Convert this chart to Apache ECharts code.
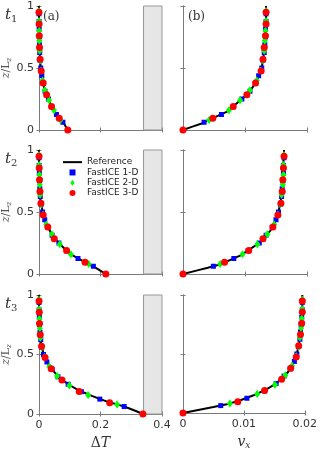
<!DOCTYPE html>
<html>
<head>
<meta charset="utf-8">
<script src="https://cdn.jsdelivr.net/npm/echarts@6/dist/echarts.min.js"></script>
<style>
  html, body { margin: 0; padding: 0; background: #fff; }
  #chart { width: 320px; height: 451px; }
</style>
</head>
<body>
<div id="chart"></div>
<script>
// vertical positions z/Lz
const zRef = [0, 0.025, 0.05, 0.075, 0.1, 0.15, 0.2, 0.25, 0.3, 0.35, 0.4, 0.45, 0.5, 0.6, 0.7, 0.8, 0.9, 1.0];
const z1D = [0.0625, 0.125, 0.1875, 0.25, 0.3125, 0.375, 0.4375, 0.5, 0.5625, 0.625, 0.6875, 0.75, 0.8125, 0.875, 0.9375];
const z2D = [0.08, 0.16, 0.24, 0.32, 0.40, 0.48, 0.56, 0.64, 0.72, 0.80, 0.88, 0.96];
const z3D = [0, 0.095, 0.19, 0.285, 0.38, 0.475, 0.57, 0.665, 0.76, 0.855, 0.95];

// reference curves
const refT1 = [0.094, 0.088, 0.082, 0.072, 0.064, 0.051, 0.039, 0.031, 0.022, 0.016, 0.012, 0.009, 0.006, 0.003, 0.0015, 0.001, 0.0005, 0];
const refT2 = [0.2175, 0.201, 0.185, 0.164, 0.146, 0.11, 0.085, 0.065, 0.046, 0.035, 0.024, 0.017, 0.012, 0.005, 0.003, 0.0015, 0.0008, 0];
const refT3 = [0.338, 0.315, 0.29, 0.262, 0.226, 0.174, 0.128, 0.095, 0.069, 0.051, 0.036, 0.023, 0.015, 0.007, 0.003, 0.0015, 0.0008, 0];
const refV1 = [0, 0.0014, 0.0029, 0.0039, 0.005, 0.0072, 0.0083, 0.0095, 0.0106, 0.0113, 0.0119, 0.0123, 0.0127, 0.013, 0.0132, 0.0133, 0.0134, 0.0134];
const refV2 = [0, 0.002, 0.004, 0.0058, 0.007, 0.0093, 0.0108, 0.0123, 0.0132, 0.0141, 0.0147, 0.0151, 0.0154, 0.0158, 0.016, 0.0162, 0.0162, 0.0163];
const refV3 = [0, 0.0025, 0.005, 0.0072, 0.009, 0.0116, 0.0137, 0.0153, 0.0164, 0.0173, 0.0179, 0.0184, 0.0187, 0.0191, 0.0193, 0.0195, 0.0196, 0.0196];

// FastICE 1-D
const f1T1 = [0.078, 0.057, 0.042, 0.031, 0.02, 0.014, 0.0095, 0.006, 0.004, 0.0027, 0.0018, 0.0012, 0.0009, 0.0006, 0.0003];
const f1T2 = [0.177, 0.127, 0.09, 0.065, 0.043, 0.03, 0.019, 0.012, 0.007, 0.0045, 0.003, 0.002, 0.0014, 0.001, 0.0005];
const f1T3 = [0.277, 0.198, 0.138, 0.095, 0.062, 0.043, 0.026, 0.015, 0.009, 0.006, 0.0035, 0.002, 0.0015, 0.001, 0.0005];
const f1V1 = [0.0034, 0.0062, 0.0081, 0.0095, 0.0108, 0.0117, 0.0122, 0.0127, 0.0129, 0.0131, 0.0132, 0.0133, 0.0133, 0.0134, 0.0134];
const f1V2 = [0.0049, 0.0082, 0.0105, 0.0123, 0.0134, 0.0144, 0.015, 0.0154, 0.0157, 0.0159, 0.016, 0.0161, 0.0162, 0.0162, 0.0163];
const f1V3 = [0.0062, 0.0105, 0.0134, 0.0153, 0.0166, 0.0176, 0.0183, 0.0187, 0.019, 0.0192, 0.0193, 0.0194, 0.0195, 0.0196, 0.0196];

// FastICE 2-D
const f2T1 = [0.07, 0.049, 0.033, 0.019, 0.012, 0.007, 0.004, 0.0024, 0.0014, 0.001, 0.0006, 0.0002];
const f2T2 = [0.162, 0.104, 0.068, 0.042, 0.024, 0.014, 0.0075, 0.004, 0.0027, 0.0015, 0.001, 0.0004];
const f2T3 = [0.254, 0.16, 0.099, 0.059, 0.034, 0.019, 0.009, 0.005, 0.003, 0.0015, 0.001, 0.0004];
const f2V1 = [0.0042, 0.0074, 0.0092, 0.0108, 0.0119, 0.0125, 0.0129, 0.0131, 0.0132, 0.0133, 0.0134, 0.0134];
const f2V2 = [0.006, 0.0096, 0.012, 0.0136, 0.0147, 0.0153, 0.0157, 0.0159, 0.0161, 0.0162, 0.0162, 0.0163];
const f2V3 = [0.0077, 0.0122, 0.0151, 0.0168, 0.0179, 0.0186, 0.019, 0.0192, 0.0194, 0.0195, 0.0196, 0.0196];

// FastICE 3-D
const f3T1 = [0.094, 0.066, 0.041, 0.025, 0.014, 0.0075, 0.004, 0.002, 0.0012, 0.0007, 0.0003];
const f3T2 = [0.2175, 0.15, 0.09, 0.05, 0.029, 0.014, 0.0065, 0.0035, 0.002, 0.001, 0.0005];
const f3T3 = [0.338, 0.23, 0.131, 0.075, 0.04, 0.02, 0.0085, 0.0045, 0.002, 0.0012, 0.0005];
const f3V1 = [0, 0.0048, 0.0081, 0.0103, 0.0117, 0.0126, 0.0129, 0.0131, 0.0133, 0.0134, 0.0134];
const f3V2 = [0, 0.0067, 0.0106, 0.0129, 0.0145, 0.0153, 0.0158, 0.016, 0.0161, 0.0162, 0.0163];
const f3V3 = [0, 0.009, 0.0134, 0.0162, 0.0177, 0.0186, 0.019, 0.0193, 0.0195, 0.0196, 0.0196];

const xTicksT = [0, 0.2, 0.4];
const xTicksV = [0, 0.01, 0.02];
const yTicks = [0, 0.5, 1];
const iceZone = [0.34, 0.4];   // shaded region in the ΔT panels
const rowLabels = ['1', '2', '3'];
const panelLabels = ['(a)', '(b)'];

const panels = [
  { ref: refT1, f1: f1T1, f2: f2T1, f3: f3T1, col: 0, row: 0 },
  { ref: refV1, f1: f1V1, f2: f2V1, f3: f3V1, col: 1, row: 0 },
  { ref: refT2, f1: f1T2, f2: f2T2, f3: f3T2, col: 0, row: 1 },
  { ref: refV2, f1: f1V2, f2: f2V2, f3: f3V2, col: 1, row: 1 },
  { ref: refT3, f1: f1T3, f2: f2T3, f3: f3T3, col: 0, row: 2 },
  { ref: refV3, f1: f1V3, f2: f2V3, f3: f3V3, col: 1, row: 2 }
];

const colLeft = [38, 183];
const rowTop = [6, 150, 295];
const boxColor = '#7a7a7a';
const labelFont = { color: '#333', fontSize: 11, fontFamily: 'DejaVu Sans' };

const pairs = (xs, zs) => zs.map((z, k) => [xs[k], z]);

var chartDom = document.getElementById('chart');
var myChart = echarts.init(chartDom, null, { renderer: 'canvas' });

var grid = [], xAxis = [], yAxis = [], series = [];

panels.forEach((p, i) => {
  grid.push({ left: colLeft[p.col], top: rowTop[p.row], width: 124, height: 124, containLabel: false });
  const isT = p.col === 0;
  const ticks = isT ? xTicksT : xTicksV;
  const bottomRow = p.row === 2;
  const tick = { show: true, inside: true, length: 2.5, lineStyle: { color: boxColor } };
  const line = { show: true, lineStyle: { color: boxColor, width: 1 } };
  xAxis.push({
    gridIndex: i, type: 'value', position: 'bottom',
    min: ticks[0], max: ticks[2], interval: ticks[1],
    axisLine: line, axisTick: tick, splitLine: { show: false },
    axisLabel: Object.assign({ show: bottomRow, margin: 6, showMinLabel: true, showMaxLabel: true }, labelFont),
    name: bottomRow ? (isT ? '{d|Δ}{i|T}' : '{i|v}{s|x}') : '',
    nameLocation: 'middle', nameGap: 22,
    nameTextStyle: {
      rich: {
        d: { fontFamily: 'DejaVu Serif', fontSize: 14, color: '#333' },
        i: { fontFamily: 'DejaVu Serif', fontStyle: 'italic', fontSize: 14, color: '#333' },
        s: { fontFamily: 'DejaVu Serif', fontStyle: 'italic', fontSize: 9, color: '#333', verticalAlign: 'bottom', padding: [6, 0, 0, 0] }
      }
    }
  });
  xAxis.push({
    gridIndex: i, type: 'value', position: 'top',
    min: ticks[0], max: ticks[2], interval: ticks[1],
    axisLine: line, axisTick: tick, splitLine: { show: false }, axisLabel: { show: false }
  });
  yAxis.push({
    gridIndex: i, type: 'value', position: 'left',
    min: yTicks[0], max: yTicks[2], interval: yTicks[1],
    axisLine: line, axisTick: tick, splitLine: { show: false },
    axisLabel: Object.assign({ show: isT, margin: 5 }, labelFont),
    name: isT ? '{i|z}{r|/L}{s|z}' : '',
    nameLocation: 'middle', nameGap: 24, nameRotate: 90,
    nameTextStyle: {
      rich: {
        i: { fontFamily: 'DejaVu Serif', fontStyle: 'italic', fontSize: 11, color: '#555' },
        r: { fontFamily: 'DejaVu Serif', fontSize: 11, color: '#555' },
        s: { fontFamily: 'DejaVu Serif', fontStyle: 'italic', fontSize: 7, color: '#555', padding: [5, 0, 0, 0] }
      }
    }
  });
  yAxis.push({
    gridIndex: i, type: 'value', position: 'right',
    min: yTicks[0], max: yTicks[2], interval: yTicks[1],
    axisLine: line, axisTick: tick, splitLine: { show: false }, axisLabel: { show: false }
  });

  const xi = 2 * i, yi = 2 * i;
  if (isT) {
    series.push({
      type: 'line', xAxisIndex: xi, yAxisIndex: yi, data: [], z: 1, silent: true,
      markArea: {
        silent: true,
        itemStyle: { color: '#e6e6e6', borderColor: '#999', borderWidth: 1 },
        data: [[{ xAxis: iceZone[0] }, { xAxis: iceZone[1] }]]
      }
    });
  }
  series.push({
    name: 'Reference', type: 'line', xAxisIndex: xi, yAxisIndex: yi,
    data: pairs(p.ref, zRef), symbol: 'none', smooth: false,
    lineStyle: { color: '#000', width: 2 }, itemStyle: { color: '#000' }, z: 2
  });
  series.push({
    name: 'FastICE 1-D', type: 'scatter', xAxisIndex: xi, yAxisIndex: yi,
    data: pairs(p.f1, z1D), symbol: 'rect', symbolSize: 5,
    itemStyle: { color: '#0000ff', opacity: 1 }, z: 3
  });
  series.push({
    name: 'FastICE 2-D', type: 'scatter', xAxisIndex: xi, yAxisIndex: yi,
    data: pairs(p.f2, z2D), symbol: 'diamond', symbolSize: [6, 8],
    itemStyle: { color: '#00ff00', opacity: 1 }, z: 4
  });
  series.push({
    name: 'FastICE 3-D', type: 'scatter', xAxisIndex: xi, yAxisIndex: yi,
    data: pairs(p.f3, z3D), symbol: 'circle', symbolSize: 7,
    itemStyle: { color: '#ff0000', opacity: 1 }, z: 5
  });
});

var graphic = [];
rowTop.forEach((top, r) => {
  graphic.push({
    type: 'text', left: 5, top: top + 2,
    style: {
      text: '{t|t}{s|' + rowLabels[r] + '}',
      rich: {
        t: { fontFamily: 'DejaVu Serif', fontStyle: 'italic', fontSize: 15, fill: '#333' },
        s: { fontFamily: 'DejaVu Serif', fontSize: 10, fill: '#333', padding: [8, 0, 0, 0] }
      }
    }
  });
});
panelLabels.forEach((t, c) => {
  graphic.push({
    type: 'text', left: colLeft[c] + 5, top: rowTop[0] + 5,
    style: { text: t, fontFamily: 'DejaVu Serif', fontSize: 12, fill: '#333' }
  });
});

var option = {
  animation: false,
  grid: grid,
  xAxis: xAxis,
  yAxis: yAxis,
  series: series,
  graphic: graphic,
  legend: {
    data: [
      { name: 'Reference', itemStyle: { opacity: 0 } },
      { name: 'FastICE 1-D', icon: 'path://M0,0h10v10h-10z' },
      { name: 'FastICE 2-D', icon: 'path://M5,0L10,7L5,14L0,7z' },
      { name: 'FastICE 3-D', icon: 'circle' }
    ],
    orient: 'vertical', left: 62, top: 157, padding: 0,
    itemWidth: 19, itemHeight: 6, itemGap: 0, symbolKeepAspect: true,
    selectedMode: false,
    textStyle: { fontFamily: 'DejaVu Sans', fontSize: 9, lineHeight: 10.3, color: '#222' }
  }
};

option && myChart.setOption(option);
</script>
</body>
</html>
